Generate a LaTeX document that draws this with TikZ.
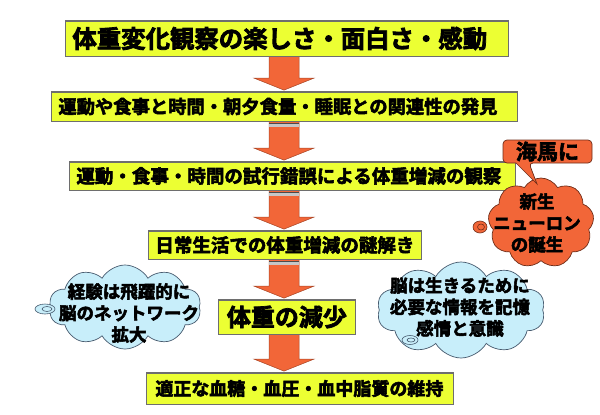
\documentclass[tikz,border=0pt]{standalone}
\usepackage{fontspec}
\setmainfont{Noto Sans CJK JP}[BoldFont={Noto Sans CJK JP Bold}, BoldFeatures={FakeBold=3}]
\usetikzlibrary{shapes.symbols,calc}
\definecolor{boxyellow}{RGB}{236,255,51}
\definecolor{arroworange}{RGB}{242,102,56}
\definecolor{cloudblue}{RGB}{200,238,250}
\definecolor{edgegray}{RGB}{110,110,110}
\definecolor{cloudedge}{RGB}{70,90,110}
\definecolor{orangeedge}{RGB}{110,45,25}
\tikzset{
  stagebox/.style={draw=edgegray, line width=0.8pt, fill=boxyellow, inner ysep=0pt, anchor=west, align=left},
  blockarrow/.style={fill=arroworange, draw=arroworange!70!black, line width=0.5pt},
  bluecloud/.style={cloud, cloud puffs=10, cloud puff arc=120, draw=cloudedge, line width=0.7pt, fill=cloudblue, inner sep=0pt},
  redcloud/.style={cloud, cloud puffs=9, cloud puff arc=120, draw=orangeedge, line width=0.7pt, fill=arroworange, inner sep=0pt},
  cloudtext/.style={align=center, inner sep=0pt, font=\bfseries\fontsize{17.5}{21.5}\selectfont},
  tailsty/.style={draw=cloudedge, line width=0.6pt},
}
\newcommand\stagearrow[2]{%
  \path (ax |- #1.south) coordinate (at) (ax |- #2.north) ++(0,-1.5) coordinate (ae);
  \filldraw[blockarrow] ($(at)+(-15,0)$) -- ($(at)+(15,0)$) -- ($(ae)+(15,-12)$) -- ($(ae)+(30,-12)$) -- (ae) -- ($(ae)+(-30,-12)$) -- ($(ae)+(-15,-12)$) -- cycle;}
\newcommand\arrowstripe[1]{%
  \fill[gray!45] ($(ax |- #1.south)+(-15,2)$) rectangle ($(ax |- #1.south)+(15,6)$);
  \draw[gray!60!black, line width=0.5pt] ($(ax |- #1.south)+(-15,2)$) -- ($(ax |- #1.south)+(15,2)$);}
\begin{document}
\begin{tikzpicture}[x=1pt,y=-1pt]
\useasboundingbox (0,0) rectangle (600,415);
\coordinate (ax) at (284,0);
% boxes
\node[stagebox, minimum height=35pt, inner xsep=7pt, text width=429pt, font=\bfseries\fontsize{24.4}{26}\selectfont] (b1) at (65,38.5) {体重変化観察の楽しさ・面白さ・感動};
\node[stagebox, minimum height=29pt, inner xsep=7pt, text width=452pt, font=\bfseries\fontsize{18.3}{20}\selectfont] (b2) at (51,106.5) {運動や食事と時間・朝夕食量・睡眠との関連性の発見};
\node[stagebox, minimum height=28pt, inner xsep=7pt, text width=432pt, font=\bfseries\fontsize{18.5}{20}\selectfont] (b3) at (69,176) {運動・食事・時間の試行錯誤による体重増減の観察};
\node[stagebox, minimum height=28pt, inner xsep=7pt, text width=259pt, font=\bfseries\fontsize{18.5}{20}\selectfont] (b4) at (148,245) {日常生活での体重増減の謎解き};
\node[stagebox, minimum height=34pt, inner xsep=7pt, text width=123pt, align=center, font=\bfseries\fontsize{24}{26}\selectfont] (b5) at (218,317) {体重の減少};
\node[stagebox, minimum height=31pt, inner xsep=9pt, text width=289pt, font=\bfseries\fontsize{18}{20}\selectfont] (b6) at (146,388.5) {適正な血糖・血圧・血中脂質の維持};
% arrows
\stagearrow{b1}{b2}
\stagearrow{b2}{b3}
\stagearrow{b3}{b4}
\stagearrow{b4}{b5}
\stagearrow{b5}{b6}
\arrowstripe{b2}
\arrowstripe{b3}
\arrowstripe{b4}
% redraw box borders on top
\foreach \b in {b1,b2,b3,b4,b5,b6}{\draw[edgegray, line width=0.8pt] (\b.south west) rectangle (\b.north east);}
% left cloud
\node[bluecloud, minimum width=152pt, minimum height=84pt, aspect=1.8] (c1) at (125,307) {};
\draw[tailsty, fill=cloudblue] (45,309) ellipse [x radius=10, y radius=5];
\draw[tailsty] (47,309) ellipse [x radius=5, y radius=2.5];
\node[cloudtext] (t1) at (129,313) {経験は飛躍的に\\脳のネットワーク\\拡大};
% right cloud
\node[bluecloud, minimum width=168pt, minimum height=96pt, aspect=1.75] (c2) at (461,310) {};
\draw[tailsty, fill=cloudblue] (410,340) ellipse [x radius=8, y radius=4.5];
\draw[tailsty] (411,340) ellipse [x radius=4, y radius=2];
\node[cloudtext] (t2) at (460,307) {脳は生きるために\\必要な情報を記憶\\感情と意識};
% orange cloud
\node[redcloud, minimum width=106pt, minimum height=90pt, aspect=1.18] (c3) at (541,223) {};
\draw[draw=orangeedge, line width=0.6pt, fill=arroworange] (480,227) ellipse [x radius=7, y radius=6];
\draw[draw=orangeedge, line width=0.6pt] (481,227) ellipse [x radius=3.5, y radius=3];
\node[cloudtext] (t3) at (537,223) {新生\\ニューロン\\の誕生};
% speech bubble
\draw[draw=orangeedge, line width=0.7pt, fill=arroworange, rounded corners=4pt] (503,140) -- (592,140) -- (592,163) -- (529,163) [sharp corners] -- (537,184) -- (516,163) [rounded corners=4pt] -- (503,163) -- cycle;
\node[inner sep=0pt, font=\bfseries\fontsize{21}{22}\selectfont] (hb) at (547.5,151.5) {海馬に};
\end{tikzpicture}
\end{document}
